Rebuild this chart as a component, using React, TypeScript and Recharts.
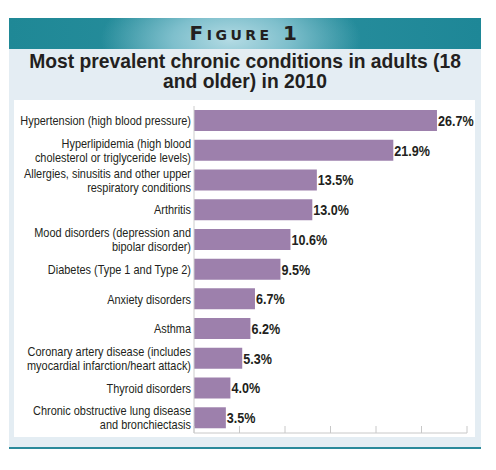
import React from 'react';
import { Bar, BarChart, LabelList, XAxis, YAxis } from 'recharts';

const conditions = [
  'Hypertension (high blood pressure)',
  'Hyperlipidemia (high blood\ncholesterol or triglyceride levels)',
  'Allergies, sinusitis and other upper\nrespiratory conditions',
  'Arthritis',
  'Mood disorders (depression and\nbipolar disorder)',
  'Diabetes (Type 1 and Type 2)',
  'Anxiety disorders',
  'Asthma',
  'Coronary artery disease (includes\nmyocardial infarction/heart attack)',
  'Thyroid disorders',
  'Chronic obstructive lung disease\nand bronchiectasis',
];

const prevalence = [26.7, 21.9, 13.5, 13.0, 10.6, 9.5, 6.7, 6.2, 5.3, 4.0, 3.5];

const xTicks = [0, 5, 10, 15, 20, 25, 30];

const figureLabel = 'Figure 1';
const titleLines = ['Most prevalent chronic conditions in adults (18', 'and older) in 2010'];

const data = conditions.map((name, i) => ({ name, value: prevalence[i] }));

// no condensed font installed, so squeeze Liberation Sans horizontally
const sans = "'Liberation Sans', Arial, sans-serif";
const ink = '#231f20';

const ConditionTick = (props: any) => {
  const { x, y, payload } = props;
  const lines = String(payload.value).split('\n');
  const lh = 14;
  const startY = -((lines.length - 1) * lh) / 2 - 1;
  return (
    <g transform={`translate(${x},${y}) scale(0.875,1)`}>
      <text textAnchor='end' fontFamily={sans} fontSize={12.5} fill={ink} dominantBaseline='central'>
        {lines.map((line, i) => (
          <tspan key={i} x={0} y={startY + i * lh}>
            {line}
          </tspan>
        ))}
      </text>
    </g>
  );
};

const ValueLabel = (props: any) => {
  const { x, y, width, height, value } = props;
  return (
    <g transform={`translate(${x + width + 1},${y + height / 2}) scale(0.84,1)`}>
      <text
        textAnchor='start'
        dominantBaseline='central'
        fontFamily={sans}
        fontWeight='bold'
        fontSize={15}
        fill={ink}
      >
        {`${Number(value).toFixed(1)}%`}
      </text>
    </g>
  );
};

const App: React.FC = () => {
  return (
    <div style={{ position: 'absolute', left: 0, top: 0, width: 496, height: 470, background: '#fff' }}>
      {/* teal header band */}
      <div
        style={{
          position: 'absolute',
          left: 9,
          top: 18,
          width: 472,
          height: 31,
          background:
            'radial-gradient(ellipse 130px 60px at 47% 70%, #b4dbe4 0%, #7ebfcc 45%, rgba(42,142,157,0) 100%), linear-gradient(90deg, #1f8896 0%, #2a8f9e 50%, #1e8797 100%)',
          textAlign: 'center',
          fontFamily: "'DejaVu Sans', sans-serif",
          fontWeight: 'bold',
          fontVariant: 'small-caps',
          letterSpacing: 3.5,
          fontSize: 20,
          lineHeight: '31px',
          color: ink,
        }}
      >
        {figureLabel}
      </div>
      {/* light panel */}
      <div style={{ position: 'absolute', left: 9, top: 49, width: 472, height: 398, background: '#e4edf3' }} />
      <div
        style={{
          position: 'absolute',
          left: 9,
          top: 52,
          width: 472,
          textAlign: 'center',
          fontFamily: sans,
          fontWeight: 'bold',
          fontSize: 19.3,
          lineHeight: '20px',
          color: ink,
        }}
      >
        {titleLines.map((t, i) => (
          <div key={i}>{t}</div>
        ))}
      </div>
      <div style={{ position: 'absolute', left: 14, top: 100, width: 461, height: 337, background: '#fff' }} />
      <div style={{ position: 'absolute', left: 9, top: 447, width: 472, height: 2, background: '#2a8a9b' }} />
      <div style={{ position: 'absolute', left: 0, top: 100 }}>
        <BarChart
          width={496}
          height={345}
          data={data}
          layout='vertical'
          margin={{ top: 6, right: 29, left: 0, bottom: 12 }}
          barSize={21}
        >
          <XAxis
            type='number'
            domain={[0, 30]}
            ticks={xTicks}
            mirror
            tickSize={7}
            tickFormatter={() => ''}
            axisLine={{ stroke: '#c8c8c8' }}
            tickLine={{ stroke: '#c8c8c8' }}
          />
          <YAxis
            type='category'
            dataKey='name'
            width={194}
            tickLine={false}
            tickSize={0}
            tickMargin={3}
            axisLine={{ stroke: '#cccccc' }}
            tick={<ConditionTick />}
            interval={0}
          />
          <Bar dataKey='value' fill='#9d80ac' isAnimationActive={false}>
            <LabelList dataKey='value' content={<ValueLabel />} />
          </Bar>
        </BarChart>
      </div>
    </div>
  );
};

export default App;
